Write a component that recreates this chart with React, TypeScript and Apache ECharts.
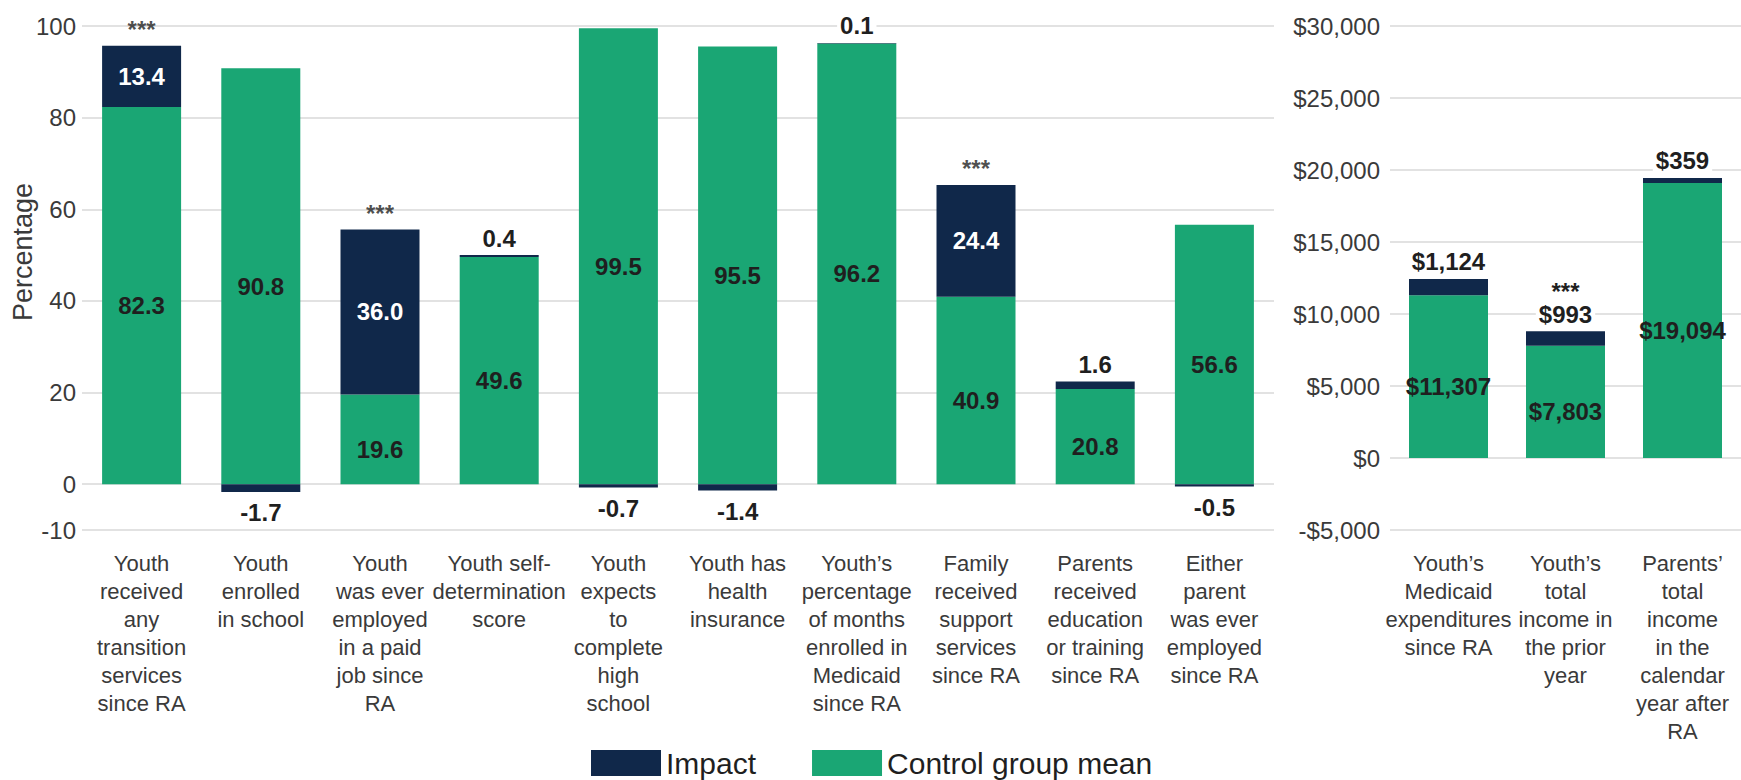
import React, { useEffect, useRef } from "react";
import * as echarts from "echarts";

const LEFT_CATEGORIES = [
  "Youth\nreceived\nany\ntransition\nservices\nsince RA",
  "Youth\nenrolled\nin school",
  "Youth\nwas ever\nemployed\nin a paid\njob since\nRA",
  "Youth self-\ndetermination\nscore",
  "Youth\nexpects\nto\ncomplete\nhigh\nschool",
  "Youth has\nhealth\ninsurance",
  "Youth\u2019s\npercentage\nof months\nenrolled in\nMedicaid\nsince RA",
  "Family\nreceived\nsupport\nservices\nsince RA",
  "Parents\nreceived\neducation\nor training\nsince RA",
  "Either\nparent\nwas ever\nemployed\nsince RA",
];
const LEFT_CONTROL = [82.3, 90.8, 19.6, 49.6, 99.5, 95.5, 96.2, 40.9, 20.8, 56.6];
const LEFT_IMPACT = [13.4, -1.7, 36.0, 0.4, -0.7, -1.4, 0.1, 24.4, 1.6, -0.5];
const LEFT_SIG = ["***", "", "***", "", "", "", "", "***", "", ""];
const LEFT_TICKS = [-10, 0, 20, 40, 60, 80, 100];

const RIGHT_CATEGORIES = [
  "Youth\u2019s\nMedicaid\nexpenditures\nsince RA",
  "Youth\u2019s\ntotal\nincome in\nthe prior\nyear",
  "Parents\u2019\ntotal\nincome\nin the\ncalendar\nyear after\nRA",
];
const RIGHT_CONTROL = [11307, 7803, 19094];
const RIGHT_IMPACT = [1124, 993, 359];
const RIGHT_SIG = ["", "***", ""];

const GREEN = "#1aa674";
const NAVY = "#10284a";
const FONT = "'Liberation Sans', Arial, sans-serif";
const TEXT = "#3a3a3a";
const DARK = "#1f1f1f";
const GRID = "#d9d9d9";

const LEFT_MIN = -10;
const LEFT_MAX = 100;
const LEFT_STEP = 10;

const fmtPct = (v: number) => v.toFixed(1);
const fmtUsd = (v: number) => (v < 0 ? "-" : "") + "$" + Math.abs(v).toLocaleString("en-US");

function impactItems(impact: number[], sig: string[], insideMin: number, fmt: (v: number) => string) {
  return impact.map((v, i) => {
    const inside = Math.abs(v) >= insideMin;
    if (inside) {
      return {
        value: v,
        label: {
          show: true,
          position: "inside",
          color: "#ffffff",
          fontWeight: "bold",
          fontSize: 24,
          fontFamily: FONT,
          formatter: () => fmt(v),
        },
      };
    }
    const stars = sig[i];
    return {
      value: v,
      label: {
        show: true,
        position: v >= 0 ? "top" : "bottom",
        distance: v >= 0 ? 4 : 8,
        color: DARK,
        fontWeight: "bold",
        fontSize: 24,
        fontFamily: FONT,
        backgroundColor: "#ffffff",
        padding: [0, 3],
        formatter: () => (stars ? "{s|" + stars + "}\n{v|" + fmt(v) + "}" : "{v|" + fmt(v) + "}"),
        rich: {
          s: { fontSize: 24, fontWeight: "bold", color: DARK, fontFamily: FONT, lineHeight: 20 },
          v: { fontSize: 24, fontWeight: "bold", color: DARK, fontFamily: FONT, lineHeight: 26 },
        },
      },
    };
  });
}

function starsData(control: number[], impact: number[], sig: string[], insideMin: number) {
  return control.map((c, i) => (sig[i] && Math.abs(impact[i]) >= insideMin ? c + impact[i] : "-"));
}

export default function App() {
  const ref = useRef<HTMLDivElement>(null);

  useEffect(() => {
    if (!ref.current) return;
    const chart = echarts.init(ref.current, undefined, { renderer: "svg" });

    const catLabel = {
      interval: 0,
      margin: 19,
      fontSize: 22,
      lineHeight: 28,
      color: TEXT,
      fontFamily: FONT,
    };

    const controlLabel = (fmt: (v: number) => string) => ({
      show: true,
      position: "inside",
      offset: [0, 10],
      color: DARK,
      fontWeight: "bold",
      fontSize: 24,
      fontFamily: FONT,
      formatter: (p: any) => fmt(p.value),
    });

    const starLabel = {
      show: true,
      position: "top",
      distance: 4,
      color: DARK,
      fontWeight: "bold",
      fontSize: 24,
      fontFamily: FONT,
      formatter: () => "***",
    };

    // split line colours: visible only on the labelled ticks
    const leftLineColors: string[] = [];
    for (let v = LEFT_MIN; v <= LEFT_MAX; v += LEFT_STEP) {
      leftLineColors.push(LEFT_TICKS.includes(v) ? GRID : "rgba(0,0,0,0)");
    }

    const option: any = {
      animation: false,
      textStyle: { fontFamily: FONT },
      grid: [
        { left: 82, top: 26, width: 1192, height: 504 },
        { left: 1390, top: 26, width: 351, height: 504 },
      ],
      legend: {
        data: ["Impact", "Control group mean"],
        left: 586,
        top: 743,
        icon: "rect",
        itemWidth: 70,
        itemHeight: 26,
        itemGap: 56,
        textStyle: { fontSize: 30, color: DARK, fontFamily: FONT },
      },
      graphic: [
        {
          type: "text",
          x: 23,
          y: 252,
          rotation: Math.PI / 2,
          style: {
            text: "Percentage",
            fontSize: 27,
            fontFamily: FONT,
            fill: TEXT,
            align: "center",
            verticalAlign: "middle",
          },
        },
      ],
      xAxis: [
        {
          type: "category",
          gridIndex: 0,
          data: LEFT_CATEGORIES,
          axisLine: { show: false, onZero: false },
          axisTick: { show: false },
          axisLabel: catLabel,
        },
        {
          type: "category",
          gridIndex: 1,
          data: RIGHT_CATEGORIES,
          axisLine: { show: false, onZero: false },
          axisTick: { show: false },
          axisLabel: catLabel,
        },
      ],
      yAxis: [
        {
          type: "value",
          gridIndex: 0,
          min: LEFT_MIN,
          max: LEFT_MAX,
          interval: LEFT_STEP,
          axisLine: { show: false },
          axisTick: { show: false },
          splitLine: { show: true, lineStyle: { color: leftLineColors, width: 1.5 } },
          axisLabel: {
            fontSize: 24,
            color: TEXT,
            margin: 6,
            fontFamily: FONT,
            formatter: (v: number) => (LEFT_TICKS.includes(Math.round(v)) ? String(Math.round(v)) : ""),
          },
        },
        {
          type: "value",
          gridIndex: 1,
          min: -5000,
          max: 30000,
          interval: 5000,
          axisLine: { show: false },
          axisTick: { show: false },
          splitLine: { show: true, lineStyle: { color: GRID, width: 1.5 } },
          axisLabel: {
            fontSize: 24,
            color: TEXT,
            margin: 10,
            fontFamily: FONT,
            formatter: (v: number) => fmtUsd(v),
          },
        },
      ],
      series: [
        {
          type: "bar",
          name: "Control group mean",
          xAxisIndex: 0,
          yAxisIndex: 0,
          stack: "L",
          barWidth: 79,
          z: 3,
          itemStyle: { color: GREEN },
          label: controlLabel(fmtPct),
          data: LEFT_CONTROL,
        },
        {
          type: "bar",
          name: "Impact",
          xAxisIndex: 0,
          yAxisIndex: 0,
          stack: "L",
          barWidth: 79,
          z: 3,
          itemStyle: { color: NAVY },
          data: impactItems(LEFT_IMPACT, LEFT_SIG, 5, fmtPct),
        },
        {
          type: "scatter",
          name: "sigL",
          xAxisIndex: 0,
          yAxisIndex: 0,
          symbolSize: 0,
          z: 4,
          silent: true,
          label: starLabel,
          data: starsData(LEFT_CONTROL, LEFT_IMPACT, LEFT_SIG, 5),
        },
        {
          type: "bar",
          name: "Control group mean",
          xAxisIndex: 1,
          yAxisIndex: 1,
          stack: "R",
          barWidth: 79,
          z: 3,
          itemStyle: { color: GREEN },
          label: controlLabel(fmtUsd),
          data: RIGHT_CONTROL,
        },
        {
          type: "bar",
          name: "Impact",
          xAxisIndex: 1,
          yAxisIndex: 1,
          stack: "R",
          barWidth: 79,
          z: 3,
          itemStyle: { color: NAVY },
          data: impactItems(RIGHT_IMPACT, RIGHT_SIG, 2000, fmtUsd),
        },
      ],
    };

    chart.setOption(option);
    return () => chart.dispose();
  }, []);

  return (
    <div
      ref={ref}
      style={{ position: "fixed", left: 0, top: 0, width: 1741, height: 780, background: "#ffffff" }}
    />
  );
}
